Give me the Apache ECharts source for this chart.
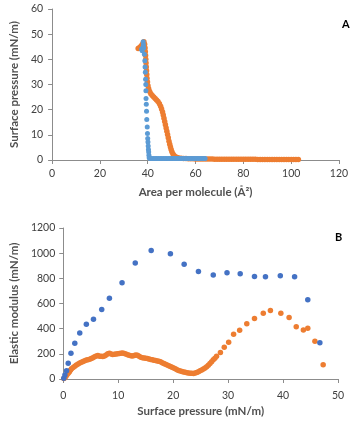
<!DOCTYPE html>
<html><head><meta charset="utf-8">
<script src="https://cdn.jsdelivr.net/npm/echarts@6/dist/echarts.min.js"></script>
<style>html,body{margin:0;padding:0;background:#fff}#c{width:355px;height:422px}</style>
</head><body><div id="c"></div>
<script>
// Panel A: surface pressure (mN/m) vs area per molecule (Å²)
var isothermOrange = [
[36.0,44.3],[36.4,44.5],[36.8,44.8],[37.2,45.2],[37.6,45.7],[38.0,46.3],[38.4,47.0],[38.7,46.0],[38.9,44.5],[39.0,43.0],[39.1,41.5],[39.2,40.0],[39.3,38.5],[39.4,37.0],[39.5,35.5],[39.6,34.0],[39.7,32.5],[39.9,31.0],[40.1,29.5],[40.4,28.3],[40.8,27.2],[41.3,26.3],[41.9,25.6],[42.5,25.0],[43.1,24.4],[43.7,23.8],[44.3,23.2],[44.9,22.4],[45.4,21.4],[45.8,20.3],[46.2,19.1],[46.5,17.9],[46.8,16.6],[47.1,15.3],[47.4,14.0],[47.7,12.7],[48.0,11.4],[48.3,10.1],[48.6,8.8],[48.9,7.5],[49.2,6.3],[49.5,5.2],[49.8,4.2],[50.1,3.3],[50.5,2.5],[51.0,1.8],[51.6,1.3],[52.3,1.0],[53.0,0.8],[54.0,0.7],[55.0,0.6],[56.0,0.6],[57.0,0.5],[58.0,0.5],[59.0,0.5],[60.0,0.4],[61.0,0.4],[62.0,0.4],[63.0,0.4],[64.0,0.4],[65.0,0.4],[66.0,0.4],[67.0,0.4],[68.0,0.3],[69.0,0.3],[70.0,0.3],[71.0,0.3],[72.0,0.3],[73.0,0.3],[74.0,0.3],[75.0,0.3],[76.0,0.3],[77.0,0.3],[78.0,0.3],[79.0,0.3],[80.0,0.3],[81.0,0.3],[82.0,0.3],[83.0,0.3],[84.0,0.3],[85.0,0.3],[86.0,0.2],[87.0,0.2],[88.0,0.2],[89.0,0.2],[90.0,0.2],[91.0,0.2],[92.0,0.2],[93.0,0.2],[94.0,0.2],[95.0,0.2],[96.0,0.2],[97.0,0.2],[98.0,0.2],[99.0,0.2],[100.0,0.2],[101.0,0.2],[102.0,0.2],[103.0,0.2]
];
var isothermBlue = [
[37.4,44.0],[37.7,43.4],[37.9,44.6],[38.1,47.0],[38.2,45.8],[38.3,44.5],[38.6,42.0],[38.8,39.4],[38.9,37.0],[39.0,34.9],[39.1,32.1],[39.2,30.0],[39.25,27.5],[39.3,24.4],[39.4,22.2],[39.5,19.4],[39.6,16.1],[39.8,13.1],[39.9,10.5],[40.0,8.5],[40.1,7.2],[40.2,5.6],[40.3,4.2],[40.4,3.2],[40.5,1.9],[40.6,0.9],[41.0,0.6],[41.7,0.6],[42.4,0.6],[43.1,0.6],[43.8,0.6],[44.5,0.6],[45.2,0.6],[45.9,0.6],[46.6,0.6],[47.3,0.6],[48.0,0.6],[48.7,0.6],[49.4,0.6],[50.1,0.6],[50.8,0.6],[51.5,0.6],[52.2,0.6],[52.9,0.6],[53.6,0.6],[54.3,0.6],[55.0,0.6],[55.7,0.6],[56.4,0.6],[57.1,0.6],[57.8,0.6],[58.5,0.6],[59.2,0.6],[59.9,0.6],[60.6,0.6],[61.3,0.6],[62.0,0.6],[62.7,0.6],[63.4,0.6],[64.0,0.6]
];
// Panel B: elastic modulus (mN/m) vs surface pressure (mN/m)
var modulusBlue = [
[0.1,5],[0.3,32],[0.6,66],[0.9,125],[1.4,204],[2.1,284],[3.0,366],[4.2,435],[5.5,475],[7.0,552],[8.4,642],[10.7,765],[13.1,921],[16.0,1022],[19.5,995],[22.0,911],[24.6,855],[27.3,826],[29.8,844],[32.2,836],[34.8,815],[36.8,812],[39.5,820],[42.1,812],[44.5,629],[46.7,289]
];
var modulusOrange = [
[0.1,3],[0.3,10],[0.5,22],[0.7,35],[0.9,45],[1.1,56],[1.3,70],[1.5,82],[1.8,92],[2.1,102],[2.4,112],[2.7,120],[3.0,127],[3.3,133],[3.6,140],[3.9,146],[4.2,151],[4.5,153],[4.8,156],[5.1,162],[5.4,168],[5.7,176],[6.0,183],[6.3,186],[6.6,181],[6.9,180],[7.2,178],[7.5,182],[7.8,190],[8.1,200],[8.4,204],[8.7,198],[9.0,195],[9.3,197],[9.6,199],[9.9,201],[10.2,202],[10.5,204],[10.8,206],[11.1,203],[11.4,198],[11.7,192],[12.0,189],[12.3,185],[12.6,183],[12.9,187],[13.2,190],[13.5,188],[13.8,180],[14.1,172],[14.4,168],[14.7,166],[15.0,164],[15.3,162],[15.6,158],[15.9,155],[16.2,152],[16.5,150],[16.8,147],[17.1,144],[17.4,142],[17.7,137],[18.0,130],[18.3,124],[18.6,118],[18.9,112],[19.2,106],[19.5,100],[19.8,93],[20.1,87],[20.4,81],[20.7,74],[21.0,68],[21.3,63],[21.6,59],[21.9,56],[22.2,53],[22.5,50],[22.8,48],[23.1,46],[23.4,45],[23.7,44],[24.0,47],[24.3,52],[24.6,58],[24.9,65],[25.2,72],[25.5,80],[25.8,88],[26.1,98],[26.4,110],[26.7,124],[27.0,138],[27.3,152],[27.6,165],[27.9,180],[28.6,210],[29.3,252],[30.1,292],[31.0,356],[32.1,387],[33.4,440],[34.8,480],[36.4,523],[37.7,545],[39.6,523],[41.1,489],[42.4,415],[43.7,390],[44.5,404],[45.8,300],[47.3,114]
];
var panelLabels = ['A','B'];
var xTitles = ['Area per molecule (Å²)','Surface pressure (mN/m)'];
var yTitles = ['Surface pressure (mN/m)','Elastic modulus (mN/m)'];

var FONT = 'Lato, "Open Sans", sans-serif';
var LBL = '#404040';
var TTL = '#505050';
var AX = '#8c8c8c';
function fmt(v){ return String(v); }
function xa(i, max, interval, margin, gap){
  return {type:'value', gridIndex:i, min:0, max:max, interval:interval,
    name:xTitles[i], nameLocation:'middle', nameGap:gap,
    nameTextStyle:{fontFamily:FONT, fontWeight:'bold', fontSize:11.5, color:TTL},
    axisLine:{show:true, onZero:false, lineStyle:{color:AX, width:1}},
    axisTick:{show:true, inside:false, length:4, lineStyle:{color:AX}},
    axisLabel:{fontFamily:FONT, fontSize:10.5, color:LBL, margin:margin, formatter:fmt},
    splitLine:{show:false}};
}
function ya(i, max, interval, margin, gap){
  return {type:'value', gridIndex:i, min:0, max:max, interval:interval,
    name:yTitles[i], nameLocation:'middle', nameGap:gap, nameRotate:90,
    nameTextStyle:{fontFamily:FONT, fontWeight:'bold', fontSize:11.5, color:TTL},
    axisLine:{show:true, lineStyle:{color:AX, width:1}},
    axisTick:{show:true, inside:false, length:4, lineStyle:{color:AX}},
    axisLabel:{fontFamily:FONT, fontSize:10.5, color:LBL, margin:margin, formatter:fmt},
    splitLine:{show:false}};
}
var chart = echarts.init(document.getElementById('c'), null, {renderer:'canvas'});
chart.setOption({
  animation:false,
  backgroundColor:'#fff',
  grid:[
    {left:51, right:16, top:9, height:151},
    {left:58, right:17, top:228, height:151}
  ],
  xAxis:[xa(0,120,20,8,26), xa(1,50,10,11,26)],
  yAxis:[ya(0,60,10,9,30), ya(1,1200,200,8,39)],
  graphic:[
    {type:'text', left:342, top:19, style:{text:panelLabels[0], font:'bold 11px '+FONT, fill:'#000'}},
    {type:'text', left:335, top:232, style:{text:panelLabels[1], font:'bold 11px '+FONT, fill:'#000'}}
  ],
  series:[
    {type:'scatter', xAxisIndex:0, yAxisIndex:0, data:isothermOrange, symbolSize:5.5, itemStyle:{color:'#ED7D31', opacity:1}},
    {type:'scatter', xAxisIndex:0, yAxisIndex:0, data:isothermBlue, symbolSize:5, itemStyle:{color:'#5B9BD5', opacity:1}},
    {type:'scatter', xAxisIndex:1, yAxisIndex:1, data:modulusOrange, symbolSize:5.5, itemStyle:{color:'#ED7D31', opacity:1}},
    {type:'scatter', xAxisIndex:1, yAxisIndex:1, data:modulusBlue, symbolSize:5.5, itemStyle:{color:'#4472C4', opacity:1}}
  ]
});
</script></body></html>
